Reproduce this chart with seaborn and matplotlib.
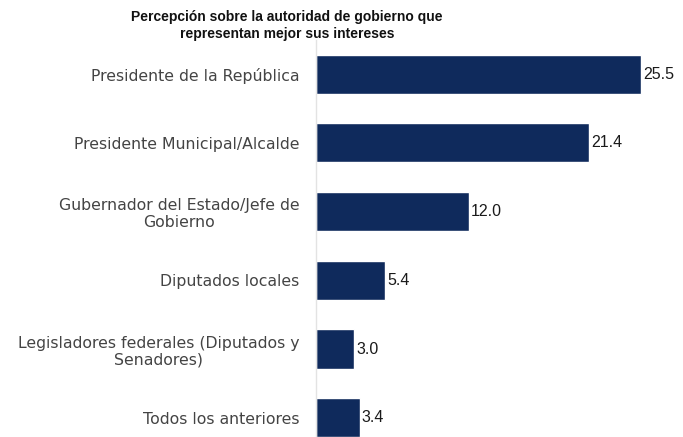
import seaborn as sns
import pandas as pd
import matplotlib.pyplot as plt

categorias = [
    'Presidente de la República',
    'Presidente Municipal/Alcalde',
    'Gubernador del Estado/Jefe de\nGobierno',
    'Diputados locales',
    'Legisladores federales (Diputados y\nSenadores)',
    'Todos los anteriores',
]
valores = [25.5, 21.4, 12.0, 5.4, 3.0, 3.4]
etiquetas = ['25.5', '21.4', '12.0', '5.4', '3.0', '3.4']

df = pd.DataFrame({'autoridad': categorias, 'pct': valores})

sns.set_style('white')
plt.rcParams['font.family'] = ['DejaVu Sans']

fig = plt.figure(figsize=(6.83, 4.37), dpi=100)
ax = fig.add_axes([0.463, 0.0, 0.512, 0.909])

sns.barplot(data=df, x='pct', y='autoridad', color='#0f2a5c', width=0.57,
            saturation=1, ax=ax)

for i, (v, t) in enumerate(zip(valores, etiquetas)):
    ax.text(v + 0.15, i, t, va='center', ha='left', fontsize=11.5,
            color='#1a1a1a', family='Liberation Sans')

ax.set_xlim(0, 27.45)
ax.set_ylim(5.28, -0.5)
ax.set_xlabel('')
ax.set_ylabel('')
ax.set_xticks([])
for s in ['top', 'right', 'bottom']:
    ax.spines[s].set_visible(False)
ax.spines['left'].set_color('#e3e3e3')
ax.spines['left'].set_linewidth(1)
ax.tick_params(axis='y', length=0, pad=12)
for lab in ax.get_yticklabels():
    lab.set_fontsize(11.3)
    lab.set_color('#444444')
    lab.set_multialignment('center')

fig.text(0.42, 0.978, 'Percepción sobre la autoridad de gobierno que\nrepresentan mejor sus intereses',
         ha='center', va='top', fontsize=10, color='#111111', fontweight='bold',
         family='Liberation Sans', linespacing=1.3)

fig.savefig('out.png', dpi=100)
